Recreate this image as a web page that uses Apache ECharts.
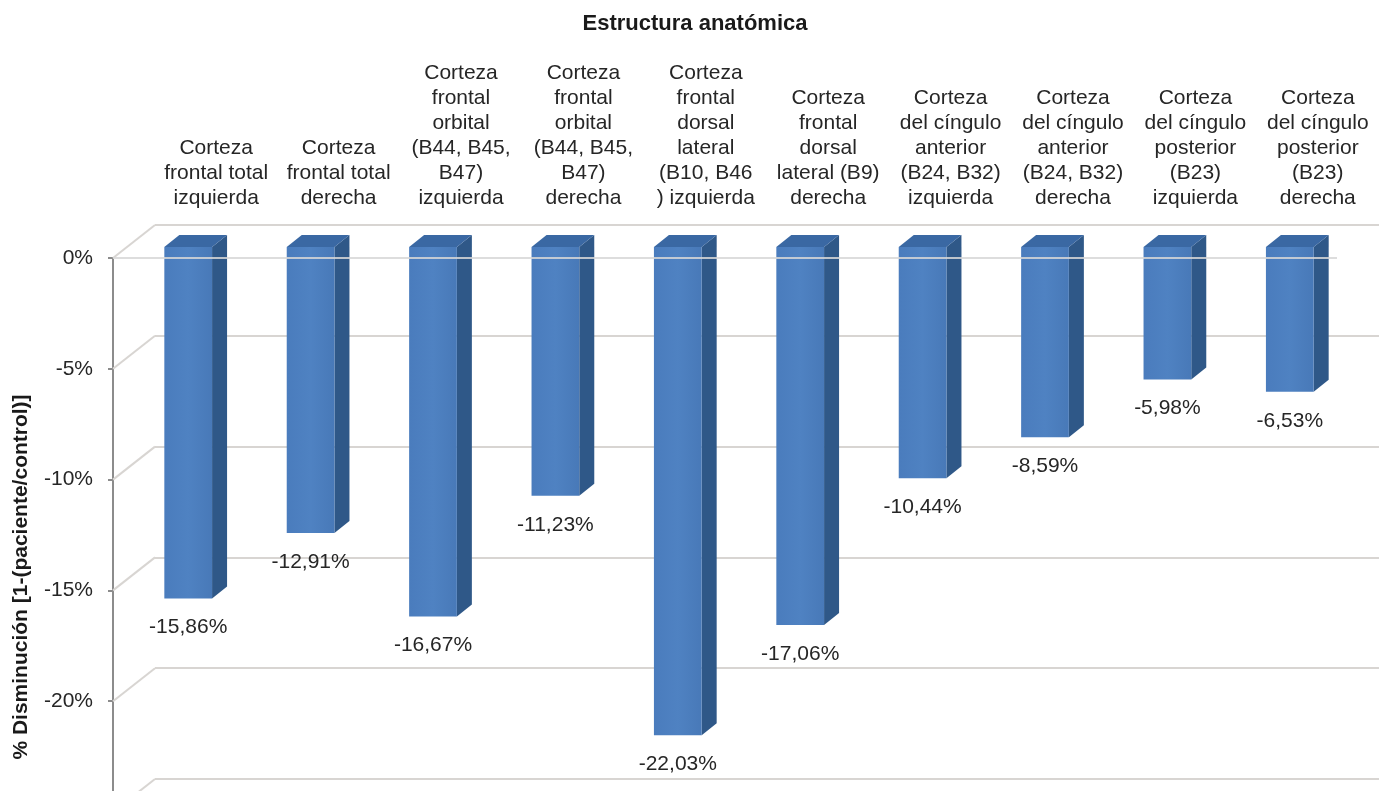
<!DOCTYPE html>
<html>
<head>
<meta charset="utf-8">
<script src="https://cdn.jsdelivr.net/npm/echarts@6/dist/echarts.min.js"></script>
<style>
html,body{margin:0;padding:0;background:#fff;}
#chart{width:1390px;height:791px;}
</style>
</head>
<body>
<div id="chart"></div>
<script>
// ---- data ----
const categories = [
  "Corteza\nfrontal total\nizquierda",
  "Corteza\nfrontal total\nderecha",
  "Corteza\nfrontal\norbital\n(B44, B45,\nB47)\nizquierda",
  "Corteza\nfrontal\norbital\n(B44, B45,\nB47)\nderecha",
  "Corteza\nfrontal\ndorsal\nlateral\n(B10, B46\n) izquierda",
  "Corteza\nfrontal\ndorsal\nlateral (B9)\nderecha",
  "Corteza\ndel cíngulo\nanterior\n(B24, B32)\nizquierda",
  "Corteza\ndel cíngulo\nanterior\n(B24, B32)\nderecha",
  "Corteza\ndel cíngulo\nposterior\n(B23)\nizquierda",
  "Corteza\ndel cíngulo\nposterior\n(B23)\nderecha"
];
const values = [-15.86, -12.91, -16.67, -11.23, -22.03, -17.06, -10.44, -8.59, -5.98, -6.53];
const yTicks = [0, -5, -10, -15, -20, -25];
const chartTitle = "Estructura anatómica";
const yAxisTitle = "% Disminución [1-(paciente/control)]";

// ---- style ----
const FONT = "'Liberation Sans', Arial, sans-serif";
const WALL_DX = 42, WALL_DY = 33;       // depth offset of the back wall
const BAR_POS = 1 / 3;                  // bar front at 1/3 of depth
const BAR_DX = 15, BAR_DY = 12;         // bar depth
const GRID_COLOR = '#d8d5d2';

const chart = echarts.init(document.getElementById('chart'));

function fmt(v) { return v.toFixed(2).replace('.', ',') + '%'; }

const option = {
  animation: false,
  backgroundColor: '#ffffff',
  title: {
    text: chartTitle,
    left: 'center',
    top: 8,
    textStyle: { fontFamily: FONT, fontSize: 22, fontWeight: 'bold', color: '#1a1a1a' }
  },
  graphic: [{
    type: 'text',
    x: 21, y: 577,
    rotation: Math.PI / 2,
    style: {
      text: yAxisTitle,
      font: "bold 21px 'Liberation Sans', Arial, sans-serif",
      fill: '#1a1a1a',
      textAlign: 'center',
      textVerticalAlign: 'middle'
    }
  }],
  grid: [
    { left: 113, top: 258, width: 1224, height: 554, outerBoundsMode: 'none', containLabel: false },  // front plane
    { left: 155, top: 225, width: 1224, height: 554, outerBoundsMode: 'none', containLabel: false }   // back wall
  ],
  xAxis: [
    { gridIndex: 0, type: 'category', data: categories, show: false },
    {
      gridIndex: 1, type: 'category', data: categories, position: 'top',
      axisLine: { show: false }, axisTick: { show: false },
      axisLabel: {
        interval: 0, margin: 14, fontFamily: FONT, fontSize: 21, lineHeight: 25,
        color: '#262626', align: 'center'
      }
    }
  ],
  yAxis: [
    {
      gridIndex: 0, type: 'value', min: -25, max: 0, interval: 5,
      axisLine: { show: true, lineStyle: { color: '#8c8c8c', width: 2 } },
      axisTick: { show: true, length: 5, lineStyle: { color: '#8c8c8c', width: 2 } },
      splitLine: { show: false },
      axisLabel: {
        margin: 20, fontFamily: FONT, fontSize: 21, color: '#262626',
        formatter: v => v + '%'
      }
    },
    {
      gridIndex: 1, type: 'value', min: -25, max: 0, interval: 5,
      axisLine: { show: false }, axisTick: { show: false }, axisLabel: { show: false },
      splitLine: { show: true, lineStyle: { color: GRID_COLOR, width: 2 } }
    }
  ],
  series: [
    { // side wall diagonals
      type: 'custom', xAxisIndex: 0, yAxisIndex: 0, z: 1,
      data: yTicks.map(t => [0, t]),
      renderItem: (params, api) => {
        const cs = params.coordSys;
        const y = api.coord([0, api.value(1)])[1];
        return {
          type: 'line',
          shape: { x1: cs.x, y1: y, x2: cs.x + WALL_DX, y2: y - WALL_DY },
          style: { stroke: GRID_COLOR, lineWidth: 2 }
        };
      },
      clip: false, silent: true
    },
    { // 3D bars
      type: 'custom', xAxisIndex: 0, yAxisIndex: 0, z: 5,
      data: values.map((v, i) => [i, v]),
      renderItem: (params, api) => {
        const i = api.value(0), v = api.value(1);
        const p0 = api.coord([i, 0]);
        const p1 = api.coord([i, v]);
        const band = api.size([1, 0])[0];
        const w = band * 0.39;
        const cx = p0[0] + WALL_DX * BAR_POS;
        const x0 = cx - w / 2, x1 = cx + w / 2;
        const yT = p0[1] - WALL_DY * BAR_POS;
        const yB = p1[1] - WALL_DY * BAR_POS;
        return {
          type: 'group',
          children: [
            { type: 'polygon',
              shape: { points: [[x1, yT], [x1 + BAR_DX, yT - BAR_DY], [x1 + BAR_DX, yB - BAR_DY], [x1, yB]] },
              style: { fill: '#2f5888' } },
            { type: 'polygon',
              shape: { points: [[x0, yT], [x0 + BAR_DX, yT - BAR_DY], [x1 + BAR_DX, yT - BAR_DY], [x1, yT]] },
              style: { fill: '#3a68a3' } },
            { type: 'rect',
              shape: { x: x0, y: yT, width: w, height: yB - yT },
              style: {
                fill: new echarts.graphic.LinearGradient(0, 0, 1, 0, [
                  { offset: 0, color: '#4a7cbd' }, { offset: 0.5, color: '#4f82c2' }, { offset: 1, color: '#4879b8' }
                ])
              } },
            { type: 'text',
              style: {
                x: cx, y: yB + 29, text: fmt(v),
                font: "21px 'Liberation Sans', Arial, sans-serif",
                fill: '#262626', textAlign: 'center', textVerticalAlign: 'middle'
              } }
          ]
        };
      },
      clip: false
    },
    { // floor front edge at 0
      type: 'custom', xAxisIndex: 0, yAxisIndex: 0, z: 10,
      data: [[0, 0]],
      renderItem: (params, api) => {
        const cs = params.coordSys;
        const y = api.coord([0, api.value(1)])[1];
        return {
          type: 'line',
          shape: { x1: cs.x, y1: y, x2: cs.x + cs.width, y2: y },
          style: { stroke: 'rgba(215,215,215,0.85)', lineWidth: 2 }
        };
      },
      clip: false, silent: true
    }
  ]
};
chart.setOption(option);
</script>
</body>
</html>
